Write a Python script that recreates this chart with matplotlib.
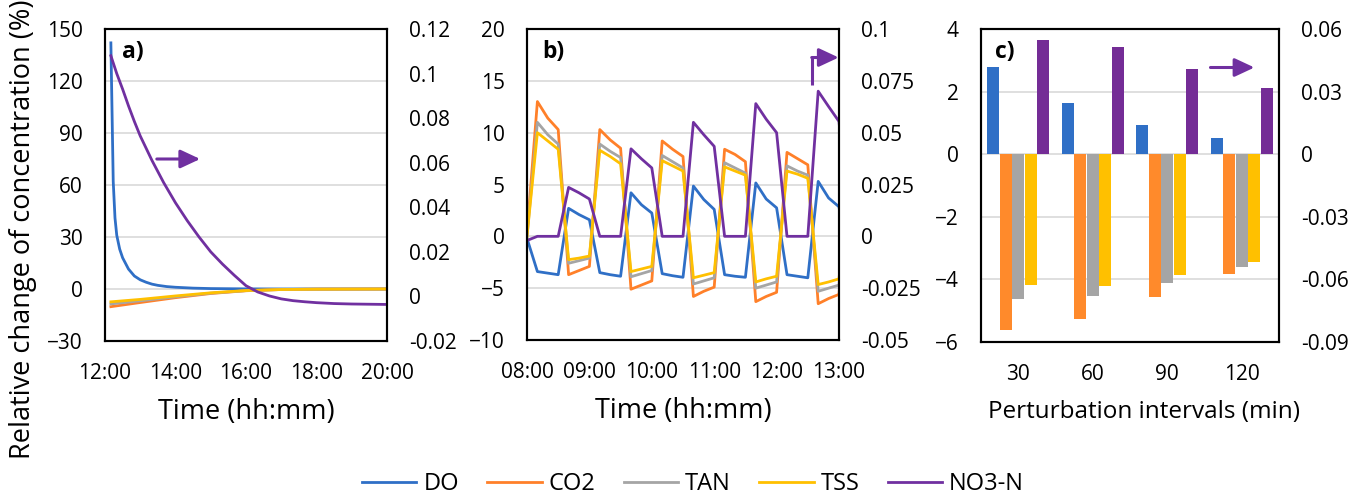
import matplotlib
matplotlib.use("Agg")
import matplotlib.pyplot as plt
import numpy as np
from matplotlib.lines import Line2D

plt.rcParams['font.family'] = ['Open Sans', 'DejaVu Sans']

# colours (Excel-like palette)
C_DO = '#2F6FC6'
C_CO2 = '#FF8029'
C_TAN = '#A5A5A5'
C_TSS = '#FFC000'
C_NO3 = '#7030A0'

# ---- panel a: single perturbation at 12:10, minutes after 12:00 ----
a_do_min = [10, 14, 17, 20, 25, 30, 40, 50, 60, 70, 80, 90, 105, 120, 150, 180, 240, 300, 480]
a_do = [142, 62, 41, 31, 23, 18, 11.5, 7.5, 5.3, 3.9, 2.8, 2.1, 1.4, 1.0, 0.5, 0.25, 0.08, 0.02, 0.0]

a_other_min = [10, 60, 120, 180, 240, 300, 360, 480]
a_co2 = [-10.2, -7.8, -5.0, -2.6, -1.0, -0.3, -0.1, 0.0]
a_tan = [-8.6, -6.8, -4.5, -2.4, -0.95, -0.3, -0.1, 0.0]
a_tss = [-7.4, -6.0, -4.0, -2.2, -0.9, -0.3, -0.1, 0.0]

a_no3_min = [10, 20, 30, 40, 50, 60, 80, 100, 120, 140, 160, 180, 200, 220, 240,
             260, 280, 300, 320, 340, 360, 390, 420, 450, 480]
a_no3 = [0.108, 0.100, 0.093, 0.0855, 0.0785, 0.072, 0.061, 0.051, 0.042, 0.034,
         0.0267, 0.020, 0.0145, 0.0095, 0.0048, 0.0020, 0.0002, -0.0011, -0.0019,
         -0.0024, -0.0028, -0.0032, -0.0034, -0.0035, -0.0036]

# ---- panel b: repeated perturbations, 10-min steps from 08:00 to 13:10 ----
b_min = list(range(0, 320, 10))
b_do = [-0.2,
        -3.4, -3.55, -3.7, 2.7, 2.1, 1.6,
        -3.5, -3.7, -3.85, 4.2, 3.05, 2.25,
        -3.6, -3.8, -3.95, 4.85, 3.55, 2.6,
        -3.7, -3.85, -3.95, 5.15, 3.6, 2.75,
        -3.7, -3.85, -4.0, 5.3, 3.7, 2.85,
        -3.7]
b_co2 = [0.3,
         13.0, 11.4, 10.3, -3.7, -3.3, -2.9,
         10.3, 9.3, 8.5, -5.1, -4.7, -4.3,
         9.2, 8.4, 7.7, -5.8, -5.3, -4.9,
         8.4, 7.9, 7.2, -6.3, -5.8, -5.4,
         8.1, 7.5, 6.9, -6.5, -6.0, -5.6,
         6.8]
b_tan = [0.0,
         11.0, 9.8, 8.9, -2.6, -2.35, -2.1,
         8.9, 8.2, 7.6, -3.9, -3.6, -3.3,
         7.8, 7.2, 6.6, -4.6, -4.3, -4.0,
         7.1, 6.6, 6.1, -5.0, -4.7, -4.4,
         6.8, 6.3, 5.9, -5.3, -5.0, -4.7,
         5.8]
b_tss = [0.0,
         10.0, 9.2, 8.4, -2.25, -2.1, -1.9,
         8.3, 7.7, 7.0, -3.4, -3.15, -2.9,
         7.3, 6.8, 6.3, -4.0, -3.75, -3.5,
         6.7, 6.3, 5.9, -4.4, -4.1, -3.85,
         6.3, 6.0, 5.6, -4.65, -4.4, -4.1,
         5.5]
b_no3 = [-0.002,
         0, 0, 0, 0.0236, 0.021, 0.018,
         0, 0, 0, 0.0422, 0.0374, 0.033,
         0, 0, 0, 0.055, 0.049, 0.0434,
         0, 0, 0, 0.064, 0.0565, 0.050,
         0, 0, 0, 0.070, 0.0626, 0.0554,
         0]

# ---- panel c: mean change per perturbation interval ----
c_labels = ['30', '60', '90', '120']
c_do = [2.79, 1.65, 0.94, 0.51]
c_co2 = [-5.62, -5.26, -4.55, -3.83]
c_tan = [-4.62, -4.54, -4.11, -3.60]
c_tss = [-4.17, -4.20, -3.86, -3.46]
c_no3 = [0.0549, 0.0512, 0.041, 0.0319]

W, H = 1365, 498
fig = plt.figure(figsize=(W / 100, H / 100), dpi=100)


def box(l, r, t, b):
    return [l / W, 1 - b / H, (r - l) / W, (b - t) / H]


TICK_FS = 15
LAB_FS = 19.5
LW = 2.0
ARROW = dict(arrowstyle='-|>,head_length=0.6,head_width=0.28', color=C_NO3,
             lw=2.2, mutation_scale=20, shrinkA=0, shrinkB=0)


def style(ax, ax2):
    for a in (ax, ax2):
        for s in a.spines.values():
            s.set_color('black')
            s.set_linewidth(1.5)
        a.tick_params(length=0, labelsize=TICK_FS, pad=16)
    ax.grid(axis='y', color='#d9d9d9', lw=1.2)
    ax.set_axisbelow(True)


def fmt(vals):
    return ['%g' % round(v, 4) for v in vals]


# panel a
ax = fig.add_axes(box(105, 387, 29, 341))
ax2 = ax.twinx()
h = lambda m: [12 + v / 60 for v in m]
ax.plot(h(a_do_min), a_do, color=C_DO, lw=LW)
ax.plot(h(a_other_min), a_co2, color=C_CO2, lw=LW)
ax.plot(h(a_other_min), a_tan, color=C_TAN, lw=LW)
ax.plot(h(a_other_min), a_tss, color=C_TSS, lw=LW)
ax2.plot(h(a_no3_min), a_no3, color=C_NO3, lw=LW)
ax.set_xlim(12, 20)
ax.set_ylim(-30, 150)
ax.set_yticks(np.arange(-30, 151, 30))
ax2.set_ylim(-0.02, 0.12)
yt = np.arange(-0.02, 0.1201, 0.02)
ax2.set_yticks(yt)
ax2.set_yticklabels(fmt(yt))
ax.set_xticks([12, 14, 16, 18, 20])
ax.set_xticklabels(['12:00', '14:00', '16:00', '18:00', '20:00'])
ax.set_xlabel('Time (hh:mm)', fontsize=LAB_FS, labelpad=10)
style(ax, ax2)
ax.text(0.06, 0.925, 'a)', transform=ax.transAxes, fontsize=16.5, fontweight='bold', va='center')
ax.annotate('', xy=(14.7, 75), xytext=(13.47, 75), arrowprops=ARROW)

# panel b
bx = fig.add_axes(box(527, 839, 29, 340))
bx2 = bx.twinx()
hb = [8 + m / 60 for m in b_min]
bx.plot(hb, b_do, color=C_DO, lw=LW)
bx.plot(hb, b_co2, color=C_CO2, lw=LW)
bx.plot(hb, b_tan, color=C_TAN, lw=LW)
bx.plot(hb, b_tss, color=C_TSS, lw=LW)
bx2.plot(hb, b_no3, color=C_NO3, lw=LW)
bx.set_xlim(8, 13)
bx.set_ylim(-10, 20)
bx.set_yticks(np.arange(-10, 21, 5))
bx2.set_ylim(-0.05, 0.1)
yt = np.arange(-0.05, 0.1001, 0.025)
bx2.set_yticks(yt)
bx2.set_yticklabels(fmt(yt))
bx.set_xticks(range(8, 14))
bx.set_xticklabels(['%02d:00' % t for t in range(8, 14)])
bx.set_xlabel('Time (hh:mm)', fontsize=LAB_FS, labelpad=10)
style(bx, bx2)
bx.text(0.048, 0.925, 'b)', transform=bx.transAxes, fontsize=16.5, fontweight='bold', va='center')
bx.plot([12.57, 12.57], [14.6, 17.25], color=C_NO3, lw=2.2, solid_capstyle='butt')
bx.annotate('', xy=(12.995, 17.25), xytext=(12.563, 17.25), arrowprops=ARROW)

# panel c
cx = fig.add_axes(box(981, 1279, 29, 342))
cx2 = cx.twinx()
x = np.arange(len(c_labels))
sp = 0.168
bw = 0.16
cx.bar(x - 2 * sp, c_do, bw, color=C_DO)
cx.bar(x - sp, c_co2, bw, color='#FF8A2B')
cx.bar(x, c_tan, bw, color=C_TAN)
cx.bar(x + sp, c_tss, bw, color=C_TSS)
cx2.bar(x + 2 * sp, c_no3, bw, color='#742C96')
cx.set_xlim(-0.5, 3.5)
cx.set_ylim(-6, 4)
cx.set_yticks(np.arange(-6, 5, 2))
cx2.set_ylim(-0.09, 0.06)
yt = np.arange(-0.09, 0.0601, 0.03)
cx2.set_yticks(yt)
cx2.set_yticklabels(fmt(yt))
cx.set_xticks(x)
cx.set_xticklabels(c_labels)
cx.set_xlabel('Perturbation intervals (min)', fontsize=17.5, labelpad=11)
cx.xaxis.label.set_x(0.547)
style(cx, cx2)
cx.text(0.047, 0.925, 'c)', transform=cx.transAxes, fontsize=16.5, fontweight='bold', va='center')
cx.annotate('', xy=(3.17, 2.77), xytext=(2.58, 2.77), arrowprops=ARROW)

fig.text(23 / W, 1 - 229 / H, 'Relative change of concentration (%)', rotation=90,
         fontsize=LAB_FS, ha='center', va='center')

handles = [Line2D([], [], color=c, lw=2) for c in (C_DO, C_CO2, C_TAN, C_TSS, C_NO3)]
fig.legend(handles, ['DO', 'CO2', 'TAN', 'TSS', 'NO3-N'], loc='center',
           bbox_to_anchor=(693 / W, 1 - 484 / H), ncol=5, frameon=False,
           fontsize=17, handlelength=2.3, handletextpad=0.3, columnspacing=1.2)

fig.savefig('out.png', dpi=100)
